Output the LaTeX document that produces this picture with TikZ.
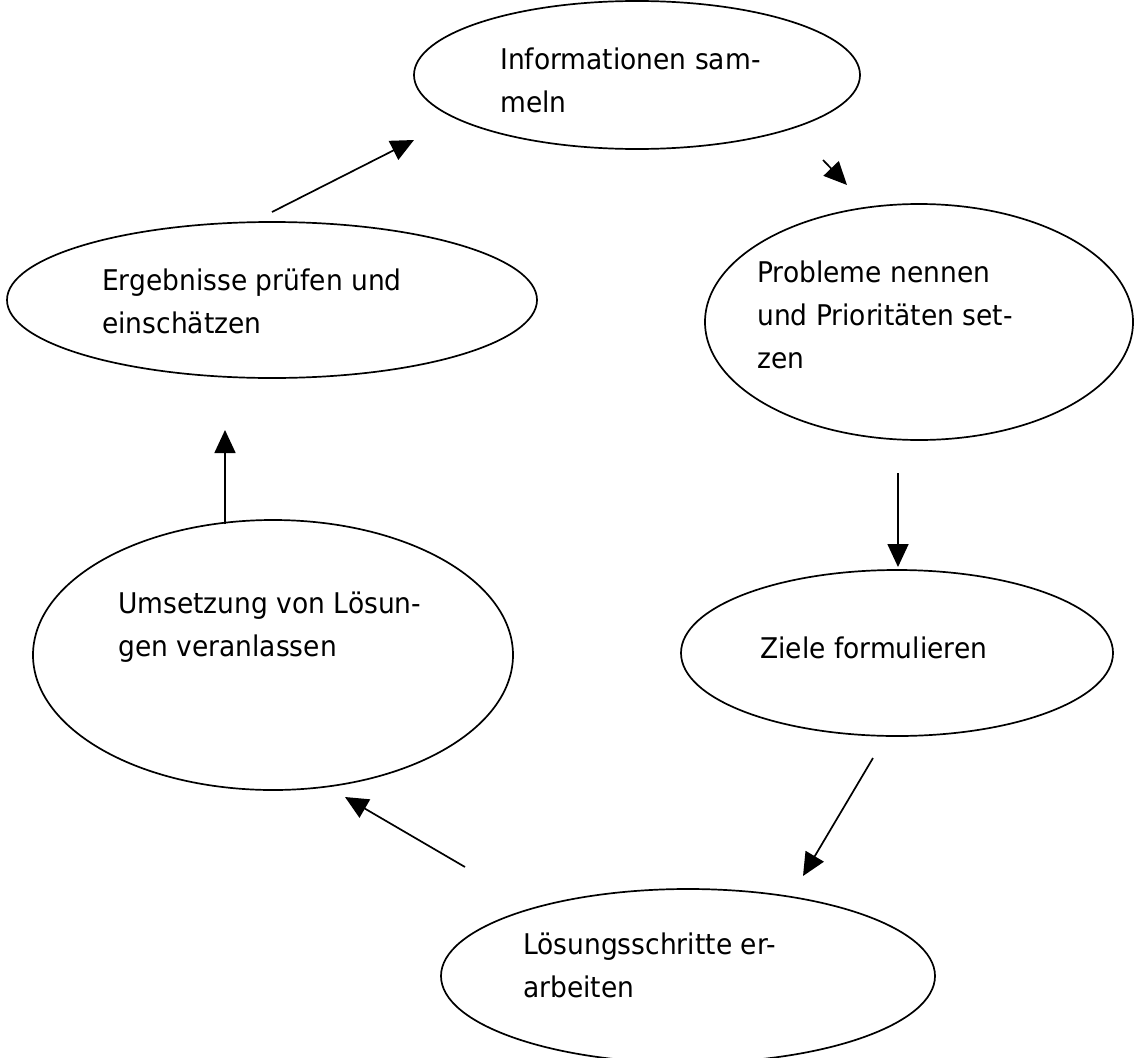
\documentclass[tikz,border=0pt]{standalone}
\usepackage{fontspec}
\setmainfont{DejaVu Sans}[FakeStretch=0.93]
\usetikzlibrary{shapes.geometric,arrows.meta}
\begin{document}
\begin{tikzpicture}[x=1pt,y=-1pt,
  bubble/.style={draw,ellipse,line width=1.7pt,inner sep=0pt},
  txt/.style={anchor=base west,align=left,inner sep=0pt,font=\fontsize{28.5}{43}\selectfont},
  arr/.style={line width=1.7pt,-{Triangle[length=23pt,width=21pt]}}]
\useasboundingbox (0,0) rectangle (1134,1057);
% ellipses
\node[bubble,minimum width=446pt,minimum height=148pt] (e1) at (637,75) {};
\node[bubble,minimum width=428pt,minimum height=236pt] (e2) at (919,322) {};
\node[bubble,minimum width=530pt,minimum height=156pt] (e3) at (272,300) {};
\node[bubble,minimum width=432pt,minimum height=166pt] (e4) at (897,653) {};
\node[bubble,minimum width=480pt,minimum height=270pt] (e5) at (273,655) {};
\node[bubble,minimum width=494pt,minimum height=174pt] (e6) at (688,976) {};
% texts (anchor = baseline of the last line)
\node[txt] (t1) at (500,112) {Informationen sam-\\meln};
\node[txt] (t2) at (757,368) {Probleme nennen\\und Prioritäten set-\\zen};
\node[txt] (t3) at (102,333) {Ergebnisse prüfen und\\einschätzen};
\node[txt] (t4) at (760,658) {Ziele formulieren};
\node[txt] (t5) at (118,656) {Umsetzung von Lösun-\\gen veranlassen};
\node[txt] (t6) at (523,997) {Lösungsschritte er-\\arbeiten};
% arrow end points
\coordinate (a1s) at (272,212); \coordinate (a1e) at (414,140);
\coordinate (a2s) at (823,160); \coordinate (a2e) at (847,185);
\coordinate (a3s) at (898,473); \coordinate (a3e) at (898,567);
\coordinate (a4s) at (873,758); \coordinate (a4e) at (803,876);
\coordinate (a5s) at (465,867); \coordinate (a5e) at (345,797);
\coordinate (a6s) at (225,524); \coordinate (a6e) at (225,430);
\draw[arr] (a1s) -- (a1e);
\draw[arr] (a2s) -- (a2e);
\draw[arr] (a3s) -- (a3e);
\draw[arr] (a4s) -- (a4e);
\draw[arr] (a5s) -- (a5e);
\draw[arr] (a6s) -- (a6e);
\end{tikzpicture}
\end{document}
